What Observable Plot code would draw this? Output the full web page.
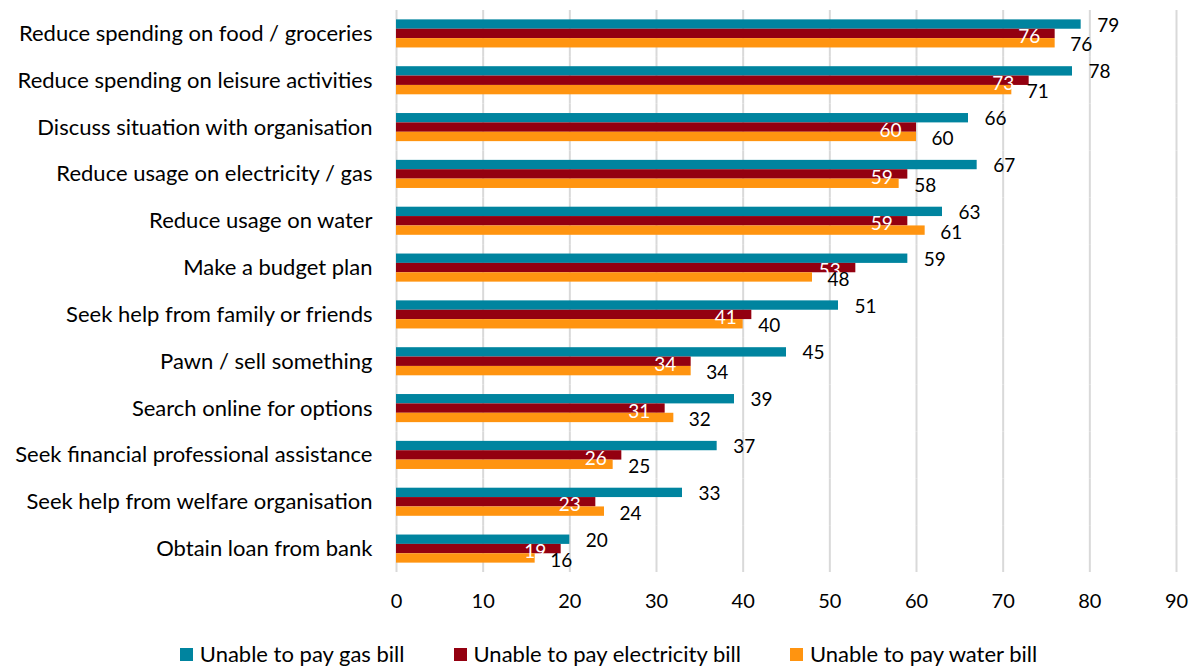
<!DOCTYPE html>
<html>
<head>
<meta charset="utf-8">
<script src="https://cdn.jsdelivr.net/npm/d3@7"></script>
<script src="https://cdn.jsdelivr.net/npm/@observablehq/plot@0.6"></script>
<style>
  body { margin: 0; background: #fff; font-family: Lato, "Open Sans", sans-serif; }
  #chart svg { display: block; }
  #legend { display: flex; justify-content: center; align-items: center; gap: 49px; font-size: 22px; color: #000; margin-top: 11px; padding-left: 18px; line-height: 26px; }
  .item { display: flex; align-items: center; }
  .sw { width: 13px; height: 13px; margin-right: 7px; }
</style>
</head>
<body>
<div id="chart"></div>
<div id="legend"></div>
<script>
const categories = [
  "Reduce spending on food / groceries",
  "Reduce spending on leisure activities",
  "Discuss situation with organisation",
  "Reduce usage on electricity / gas",
  "Reduce usage on water",
  "Make a budget plan",
  "Seek help from family or friends",
  "Pawn / sell something",
  "Search online for options",
  "Seek financial professional assistance",
  "Seek help from welfare organisation",
  "Obtain loan from bank"
];
const seriesNames = ["Unable to pay gas bill", "Unable to pay electricity bill", "Unable to pay water bill"];
const gasValues = [79, 78, 66, 67, 63, 59, 51, 45, 39, 37, 33, 20];
const electricityValues = [76, 73, 60, 59, 59, 53, 41, 34, 31, 26, 23, 19];
const waterValues = [76, 71, 60, 58, 61, 48, 40, 34, 32, 25, 24, 16];
const seriesColors = ["#00849f", "#930010", "#ff9410"];
const xTicks = [0, 10, 20, 30, 40, 50, 60, 70, 80, 90];

const valueLists = [gasValues, electricityValues, waterValues];
const data = [];
categories.forEach((c, i) => {
  seriesNames.forEach((s, j) => data.push({cat: c, series: s, value: valueLists[j][i]}));
});
const bySeries = s => data.filter(d => d.series === s);

const chart = Plot.plot({
  width: 1199,
  height: 630,
  marginLeft: 396,
  marginRight: 23,
  marginTop: 10,
  marginBottom: 58,
  style: {fontFamily: "Lato, 'Open Sans', sans-serif", fontSize: "20px", color: "#000", background: "#fff"},
  x: {domain: [0, 90], ticks: xTicks, tickSize: 0, tickPadding: 21, label: null},
  y: {domain: seriesNames, axis: null, paddingInner: 0, paddingOuter: 1, round: false},
  fy: {domain: categories, padding: 0, round: false, axis: null},
  color: {domain: seriesNames, range: seriesColors},
  marks: [
    Plot.ruleX(xTicks, {stroke: "#d9d9d9", strokeWidth: 2}),
    Plot.barX(data, {fy: "cat", y: "series", x: "value", fill: "series"}),
    Plot.axisFy({anchor: "left", tickSize: 0, tickPadding: 24, label: null, fontSize: 22}),
    Plot.text(bySeries(seriesNames[0]), {fy: "cat", y: "series", x: "value", text: "value", dx: 27, dy: 1, fill: "#000", fontSize: 19}),
    Plot.text(bySeries(seriesNames[1]), {fy: "cat", y: "series", x: "value", text: "value", dx: -26, dy: 3, fill: "#fff", fontSize: 19}),
    Plot.text(bySeries(seriesNames[2]), {fy: "cat", y: "series", x: "value", text: "value", dx: 26, dy: 2, fill: "#000", fontSize: 19})
  ]
});
document.getElementById("chart").append(chart);

const legend = document.getElementById("legend");
seriesNames.forEach((s, i) => {
  const item = document.createElement("div");
  item.className = "item";
  const sw = document.createElement("span");
  sw.className = "sw";
  sw.style.background = seriesColors[i];
  const t = document.createElement("span");
  t.textContent = s;
  item.append(sw, t);
  legend.append(item);
});
</script>
</body>
</html>
